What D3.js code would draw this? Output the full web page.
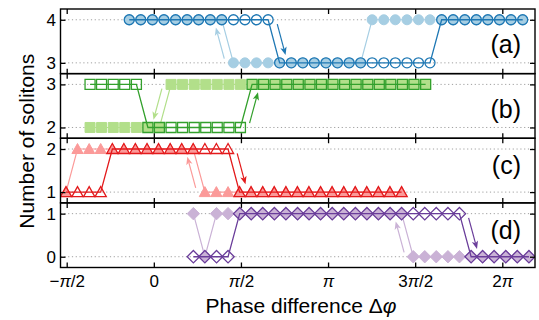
<!DOCTYPE html>
<html>
<head>
<meta charset="utf-8">
<script src="https://cdn.jsdelivr.net/npm/d3@7"></script>
<style>
  body { margin: 0; background: #fff; }
  svg { font-family: "Liberation Sans", Arial, sans-serif; }
</style>
</head>
<body>
<svg width="539" height="320"></svg>
<script>
// phase values are in units of pi
var phaseA = [-0.141, -0.075, -0.008, 0.058, 0.125, 0.191, 0.257, 0.324, 0.390, 0.457, 0.523, 0.589,
              0.656, 0.722, 0.789, 0.855, 0.921, 0.988, 1.054, 1.121, 1.187, 1.253, 1.320, 1.386,
              1.453, 1.519, 1.585, 1.652, 1.718, 1.785, 1.851, 1.917, 1.984, 2.050, 2.117];
var phaseB = [-0.366, -0.300, -0.233, -0.167, -0.100, -0.034, 0.032, 0.099, 0.165, 0.232, 0.298, 0.364,
              0.431, 0.497, 0.564, 0.630, 0.696, 0.763, 0.829, 0.896, 0.962, 1.028, 1.095, 1.161,
              1.228, 1.294, 1.360, 1.427, 1.493, 1.560];
var phaseC = [-0.504, -0.438, -0.371, -0.305, -0.238, -0.172, -0.106, -0.039, 0.027, 0.094, 0.160, 0.226,
              0.293, 0.359, 0.426, 0.492, 0.558, 0.625, 0.691, 0.758, 0.824, 0.890, 0.957, 1.023,
              1.090, 1.156, 1.222, 1.289, 1.355, 1.422];
var phaseD = [0.227, 0.293, 0.360, 0.426, 0.493, 0.559, 0.625, 0.692, 0.758, 0.825, 0.891, 0.957,
              1.024, 1.090, 1.157, 1.223, 1.289, 1.356, 1.422, 1.489, 1.555, 1.621, 1.688, 1.754,
              1.821, 1.887, 1.953, 2.020, 2.086, 2.153];

// forward sweep (dark, open markers) and backward sweep (light, filled markers)
var forwardA  = [4,4,4,4,4,4,4,4,4,4,4,4,4, 3,3,3,3,3,3,3,3,3,3,3,3,3,3, 4,4,4,4,4,4,4,4];
var backwardA = [4,4,4,4,4,4,4,4,4, 3,3,3,3,3,3,3,3,3,3,3,3, 4,4,4,4,4,4,4,4,4,4,4,4,4,4];
var forwardB  = [3,3,3,3,3, 2,2,2,2,2,2,2,2,2, 3,3,3,3,3,3,3,3,3,3,3,3,3,3,3,3];
var backwardB = [2,2,2,2,2,2,2, 3,3,3,3,3,3,3,3,3,3,3,3,3,3,3,3,3,3,3,3,3,3,3];
var forwardC  = [1,1,1,1, 2,2,2,2,2,2,2,2,2,2,2, 1,1,1,1,1,1,1,1,1,1,1,1,1,1,1];
var backwardC = [1, 2,2,2,2,2,2,2,2,2,2,2, 1,1,1,1,1,1,1,1,1,1,1,1,1,1,1,1,1,1];
var forwardD  = [0,0,0,0, 1,1,1,1,1,1,1,1,1,1,1,1,1,1,1,1,1,1,1,1, 0,0,0,0,0,0];
var backwardD = [1,0, 1,1,1,1,1,1,1,1,1,1,1,1,1,1,1,1,1, 0,0,0,0,0,0,0,0,0,0,0];

// index of the jump that carries an arrow (between point k and k+1)
var forwardArrowAt  = [12, 13, 14, 23];
var backwardArrowAt = [8, 6, 11, 18];

var panelLevels = [[3, 4], [2, 3], [1, 2], [0, 1]];
var panelLabels = ["(a)", "(b)", "(c)", "(d)"];
var xTicks      = [-0.5, 0, 0.5, 1, 1.5, 2];
var xTickLabels = ["\u2212\u03c0/2", "0", "\u03c0/2", "\u03c0", "3\u03c0/2", "2\u03c0"];

var darkColors  = ["#1f78b4", "#33a02c", "#e31a1c", "#6a3d9a"];
var lightColors = ["#a6cee3", "#b2df8a", "#fb9a99", "#cab2d6"];
var markerKind  = ["circle", "square", "triangle", "diamond"];
var labelDy     = [44, 44, 36, 36];

function markerPath(kind){
    if (kind == "circle") return "M5,0A5,5 0 1,1 -5,0A5,5 0 1,1 5,0Z";
    if (kind == "square") return "M-5,-5H5V5H-5Z";
    if (kind == "triangle") return "M0,-5.5L5.6,4.5H-5.6Z";
    return "M0,-6.2L6.2,0L0,6.2L-6.2,0Z";
}

function main(){
    var svg = d3.select("svg"),
        left = 60.5, right = 535,
        top = 9, bottom = 267.5,
        panelH = (bottom - top) / 4;

    var x = d3.scaleLinear().domain([-0.5356, 2.1877]).range([left, right]);

    var phases = [phaseA, phaseB, phaseC, phaseD],
        forward = [forwardA, forwardB, forwardC, forwardD],
        backward = [backwardA, backwardB, backwardC, backwardD];

    var defs = svg.append("defs");

    for (var i = 0; i < 4; i++) {
        var y0 = top + i * panelH,
            lv = panelLevels[i];
        var y = d3.scaleLinear().domain([lv[0] - 0.25, lv[1] + 0.25]).range([y0 + panelH, y0]);

        defs.append("clipPath").attr("id", "clip" + i)
            .append("rect").attr("x", left).attr("y", y0).attr("width", right - left).attr("height", panelH);

        var g = svg.append("g");

        // dotted guide lines
        g.selectAll(".guide")
            .data(lv)
            .enter().append("line")
            .attr("x1", left).attr("x2", right)
            .attr("y1", function(d){ return y(d); })
            .attr("y2", function(d){ return y(d); })
            .attr("stroke", "#a0a0a0")
            .attr("stroke-width", 1)
            .attr("stroke-dasharray", "1.2,2.6");

        var plot = g.append("g").attr("clip-path", "url(#clip" + i + ")");

        var sweeps = [
            { counts: backward[i], color: lightColors[i], filled: true, width: 1.2 },
            { counts: forward[i], color: darkColors[i], filled: false, width: 1.3 }
        ];

        sweeps.forEach(function(s){
            var pts = phases[i].map(function(p, k){ return [p, s.counts[k]]; });
            var line = d3.line()
                .x(function(d){ return x(d[0]); })
                .y(function(d){ return y(d[1]); });

            plot.append("path")
                .attr("d", line(pts))
                .attr("fill", "none")
                .attr("stroke", s.color)
                .attr("stroke-width", s.width);

            plot.selectAll(null)
                .data(pts)
                .enter().append("path")
                .attr("transform", function(d){ return "translate(" + x(d[0]) + "," + y(d[1]) + ")"; })
                .attr("d", markerPath(markerKind[i]))
                .attr("fill", s.filled ? s.color : "none")
                .attr("stroke", s.color)
                .attr("stroke-width", s.filled ? 1 : 1.3);
        });

        // sweep direction arrows
        drawArrow(g, x, y, phases[i], forward[i], forwardArrowAt[i], darkColors[i], true);
        drawArrow(g, x, y, phases[i], backward[i], backwardArrowAt[i], lightColors[i], false);

        // axes with inward ticks
        var last = (i == 3);
        var xb = g.append("g")
            .attr("transform", "translate(0," + (y0 + panelH) + ")")
            .call(d3.axisBottom(x).tickValues(xTicks).tickSize(-5).tickPadding(7.5)
                  .tickFormat(function(d, k){ return last ? xTickLabels[k] : ""; }));
        var xt = g.append("g")
            .attr("transform", "translate(0," + y0 + ")")
            .call(d3.axisTop(x).tickValues(xTicks).tickSize(-5).tickFormat(""));
        var yl = g.append("g")
            .attr("transform", "translate(" + left + ",0)")
            .call(d3.axisLeft(y).tickValues(lv).tickSize(-5).tickPadding(4.5).tickFormat(d3.format("d")));
        var yr = g.append("g")
            .attr("transform", "translate(" + right + ",0)")
            .call(d3.axisRight(y).tickValues(lv).tickSize(-5).tickFormat(""));

        [xb, xt, yl, yr].forEach(function(a){
            a.attr("font-family", null).attr("font-size", 17);
            a.select(".domain").remove();
            a.selectAll(".tick line").attr("stroke", "#000").attr("stroke-width", 1.3);
            a.selectAll(".tick text").attr("fill", "#000");
        });

        if (last) {
            xb.selectAll(".tick text").each(function(d, k){
                var t = d3.select(this), s = xTickLabels[k];
                t.text(null);
                s.split(/(\u03c0)/).forEach(function(part){
                    if (!part) return;
                    t.append("tspan")
                        .style("font-style", part == "\u03c0" ? "italic" : null)
                        .text(part);
                });
            });
        }

        // frame
        g.append("rect")
            .attr("x", left).attr("y", y0)
            .attr("width", right - left).attr("height", panelH)
            .attr("fill", "none")
            .attr("stroke", "#000")
            .attr("stroke-width", 1.4);

        g.append("text")
            .attr("x", 521)
            .attr("y", y0 + labelDy[i])
            .attr("text-anchor", "end")
            .attr("font-size", 25)
            .text(panelLabels[i]);
    }

    svg.append("text")
        .attr("transform", "translate(34," + ((top + bottom) / 2 + 3) + ") rotate(-90)")
        .attr("text-anchor", "middle")
        .attr("font-size", 21)
        .text("Number of solitons");

    var xl = svg.append("text")
        .attr("x", 301)
        .attr("y", 313)
        .attr("text-anchor", "middle")
        .attr("font-size", 21);
    xl.append("tspan").text("Phase difference \u0394");
    xl.append("tspan").style("font-style", "italic").text("\u03c6");
}

function drawArrow(g, x, y, ph, counts, k, color, forwardDir){
    var p1 = [x(ph[k]), y(counts[k])],
        p2 = [x(ph[k + 1]), y(counts[k + 1])];
    var a = forwardDir ? p1 : p2,
        b = forwardDir ? p2 : p1,
        off = forwardDir ? 8 : -8;
    var sx = a[0] + 0.1 * (b[0] - a[0]) + off,
        sy = a[1] + 0.1 * (b[1] - a[1]),
        ex = a[0] + 0.82 * (b[0] - a[0]) + off,
        ey = a[1] + 0.82 * (b[1] - a[1]);
    var len = Math.sqrt((ex - sx) * (ex - sx) + (ey - sy) * (ey - sy)),
        ux = (ex - sx) / len, uy = (ey - sy) / len,
        head = 8, half = 3.2;
    var bx = ex - ux * head, by = ey - uy * head;

    g.append("line")
        .attr("x1", sx).attr("y1", sy)
        .attr("x2", bx + ux * 2).attr("y2", by + uy * 2)
        .attr("stroke", color)
        .attr("stroke-width", 1.2);
    g.append("path")
        .attr("d", "M" + ex + "," + ey +
                   "L" + (bx - uy * half) + "," + (by + ux * half) +
                   "L" + (bx + ux * 2) + "," + (by + uy * 2) +
                   "L" + (bx + uy * half) + "," + (by - ux * half) + "Z")
        .attr("fill", color)
        .attr("stroke", "none");
}

main();
</script>
</body>
</html>
